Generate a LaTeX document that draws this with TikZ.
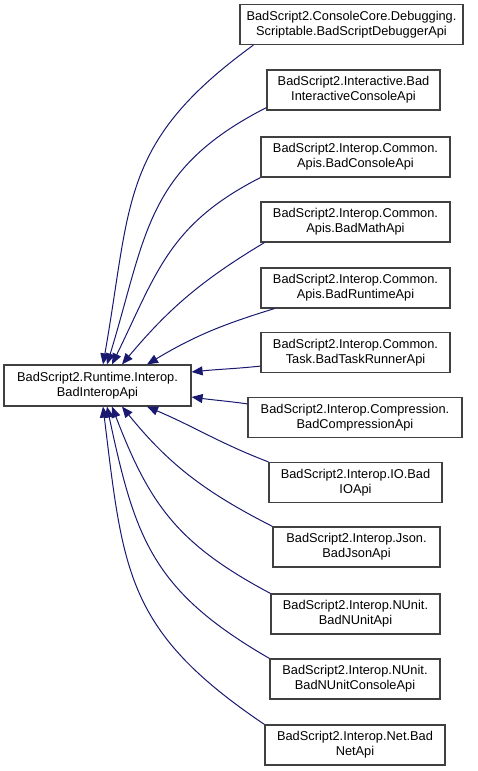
\documentclass[tikz,border=0pt]{standalone}
\usepackage{fontspec}
\setmainfont{Liberation Sans}
\usepackage{tikz}
\usetikzlibrary{arrows.meta, positioning, calc}
\definecolor{edgeblue}{RGB}{25,25,112}
\definecolor{boxgray}{RGB}{64,64,64}

\begin{document}
\begin{tikzpicture}[x=1pt, y=1pt,
    cls/.style={draw=boxgray, line width=1.2pt, fill=white, align=center, inner sep=0pt,
        minimum height=40pt, font=\fontsize{12.8}{15}\selectfont},
    edge/.style={draw=edgeblue, line width=1pt, -{Triangle[length=11pt, width=9pt]}}]
    \useasboundingbox (0,0) rectangle (477,-771);
    \node[cls, minimum width=187pt, minimum height=41pt] (base) at (97.5,-385.5) {BadScript2.Runtime.Interop.\\BadInteropApi};
    \node[cls, minimum width=223pt] (debugger) at (351.5,-24.5) {BadScript2.ConsoleCore.Debugging.\\Scriptable.BadScriptDebuggerApi};
    \node[cls, minimum width=173pt] (interactive) at (353.5,-90) {BadScript2.Interactive.Bad\\InteractiveConsoleApi};
    \node[cls, minimum width=189pt] (console) at (355.5,-157) {BadScript2.Interop.Common.\\Apis.BadConsoleApi};
    \node[cls, minimum width=189pt] (math) at (355.5,-222) {BadScript2.Interop.Common.\\Apis.BadMathApi};
    \node[cls, minimum width=189pt] (runtime) at (355.5,-288) {BadScript2.Interop.Common.\\Apis.BadRuntimeApi};
    \node[cls, minimum width=189pt] (taskrunner) at (355.5,-352.5) {BadScript2.Interop.Common.\\Task.BadTaskRunnerApi};
    \node[cls, minimum width=214pt] (compression) at (355,-417.5) {BadScript2.Interop.Compression.\\BadCompressionApi};
    \node[cls, minimum width=173pt] (io) at (355.5,-482.5) {BadScript2.Interop.IO.Bad\\IOApi};
    \node[cls, minimum width=167pt] (json) at (356.5,-547) {BadScript2.Interop.Json.\\BadJsonApi};
    \node[cls, minimum width=169pt] (nunit) at (355.5,-614) {BadScript2.Interop.NUnit.\\BadNUnitApi};
    \node[cls, minimum width=170pt] (nunitconsole) at (355,-679) {BadScript2.Interop.NUnit.\\BadNUnitConsoleApi};
    \node[cls, minimum width=180pt] (net) at (355,-745) {BadScript2.Interop.Net.Bad\\NetApi};
    \draw[edge] ([xshift=14pt]debugger.south west) to[out=216, in=80, looseness=1.2] ([xshift=5.5pt]base.north);
    \draw[edge] ([yshift=3pt]interactive.south west) to[out=207, in=73, looseness=1.15] ([xshift=9.5pt]base.north);
    \draw[edge] (console.south west) to[out=207, in=64, looseness=1.1] ([xshift=14.5pt]base.north);
    \draw[edge] ([xshift=4pt]math.south west) to[out=211, in=50] ([xshift=24.5pt]base.north);
    \draw[edge] ([xshift=14pt]runtime.south west) to[out=197, in=31] ([xshift=49.5pt]base.north);
    \draw[edge] ([yshift=7pt]taskrunner.south west) to[out=186, in=6] ([yshift=13.5pt]base.east);
    \draw[edge] ([yshift=-7pt]compression.north west) to[out=172, in=-8] ([yshift=-11.5pt]base.east);
    \draw[edge] (io.north west) to[out=159, in=-23] ([xshift=49.5pt]base.south);
    \draw[edge] (json.north west) to[out=153, in=-51] ([xshift=24.5pt]base.south);
    \draw[edge] (nunit.north west) to[out=152, in=-69, looseness=1.1] ([xshift=14.5pt]base.south);
    \draw[edge] (nunitconsole.north west) to[out=150, in=-78, looseness=1.15] ([xshift=9.5pt]base.south);
    \draw[edge] (net.north west) to[out=146, in=-83, looseness=1.2] ([xshift=5.5pt]base.south);
\end{tikzpicture}
\end{document}
